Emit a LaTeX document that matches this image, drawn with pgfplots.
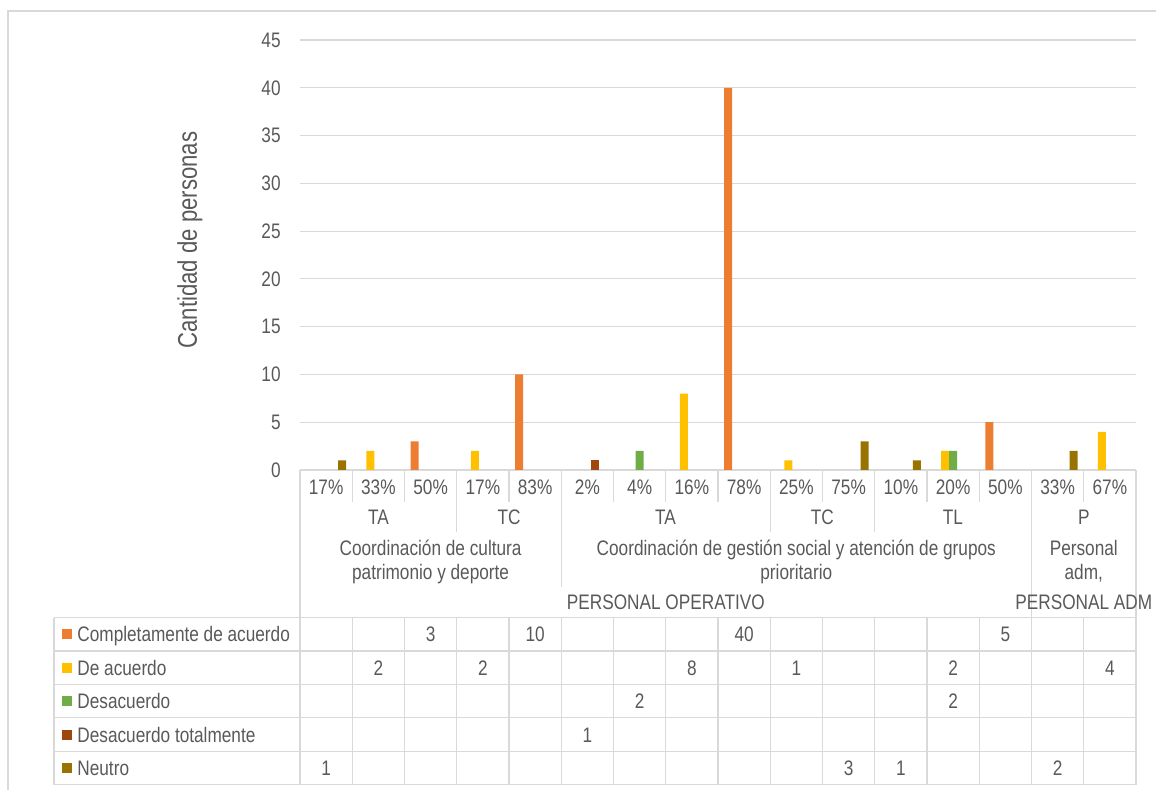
\documentclass[border=0pt]{standalone}
\usepackage{pgfplots}
\pgfplotsset{compat=1.18}
\usepackage{fontspec}
\setmainfont{Liberation Sans}[FakeStretch=0.82]
\definecolor{txt}{HTML}{595959}
\definecolor{gridc}{HTML}{D9D9D9}
\definecolor{cOr}{HTML}{ED7D31}
\definecolor{cYe}{HTML}{FFC000}
\definecolor{cGr}{HTML}{70AD47}
\definecolor{cDr}{HTML}{9E480E}
\definecolor{cOl}{HTML}{997300}
\newcommand{\fs}{\fontsize{10.5}{12.6}\selectfont}
\begin{document}
\begin{tikzpicture}
\path[use as bounding box] (0,0) rectangle (578pt,-395pt);
\begin{axis}[at={(150pt,-235pt)}, anchor=south west, scale only axis,
  width=418pt, height=215pt, xmin=-0.5, xmax=15.5, ymin=0, ymax=45,
  ytick={0,5,...,45}, xtick=\empty, ymajorgrids,
  grid style={gridc, line width=0.6pt}, axis line style={draw=none},
  major tick length=0pt,
  yticklabel style={anchor=east, inner sep=0pt, xshift=-9.5pt, font=\fs, text=txt},
  /pgf/number format/assume math mode=true, clip=false]
\addplot[ybar, bar width=0.153, bar shift=-0.306, fill=cOr, draw=none] coordinates {(2,3) (4,10) (8,40) (13,5)};
\addplot[ybar, bar width=0.153, bar shift=-0.153, fill=cYe, draw=none] coordinates {(1,2) (3,2) (7,8) (9,1) (12,2) (15,4)};
\addplot[ybar, bar width=0.153, bar shift=0, fill=cGr, draw=none] coordinates {(6,2) (12,2)};
\addplot[ybar, bar width=0.153, bar shift=0.153, fill=cDr, draw=none] coordinates {(5,1)};
\addplot[ybar, bar width=0.153, bar shift=0.306, fill=cOl, draw=none] coordinates {(0,1) (10,3) (11,1) (14,2)};
\end{axis}
\begin{scope}[x=0.5pt, y=-0.5pt]
\draw[gridc, line width=0.6pt] (8,790) -- (8,11) -- (1156,11);
% category separators
\foreach \k in {1,2,4,6,7,8,10,12,13,15} \draw[gridc, line width=0.6pt] ({300+52.25*\k},470) -- ({300+52.25*\k},502);
\foreach \k in {3,9,11} \draw[gridc, line width=0.6pt] ({300+52.25*\k},470) -- ({300+52.25*\k},532);
\foreach \k in {5} \draw[gridc, line width=0.6pt] ({300+52.25*\k},470) -- ({300+52.25*\k},587);
\foreach \k in {0,14,16} \draw[gridc, line width=0.6pt] ({300+52.25*\k},470) -- ({300+52.25*\k},617.5);
% table grid
\foreach \r in {0,...,5} \draw[gridc, line width=0.6pt] (54,{617.5+33.45*\r}) -- (1136,{617.5+33.45*\r});
\draw[gridc, line width=0.6pt] (54,617.5) -- (54,784.75);
\foreach \k in {0,...,16} \draw[gridc, line width=0.6pt] ({300+52.25*\k},617.5) -- ({300+52.25*\k},784.75);
% labels
\begin{scope}[every node/.style={text=txt, font=\fs, inner sep=0pt}]
\foreach \k/\t in {0/17,1/33,2/50,3/17,4/83,5/2,6/4,7/16,8/78,9/25,10/75,11/10,12/20,13/50,14/33,15/67}
  \node[anchor=base] at ({326.125+52.25*\k},494.5) {\t\%};
\foreach \xc/\t in {378.4/TA, 509/TC, 665.6/TA, 822.3/TC, 953/TL, 1083.8/P}
  \node[anchor=base] at (\xc,524) {\t};
\node[anchor=base] at (430.6,555.5) {Coordinación de cultura};
\node[anchor=base] at (430.6,580) {patrimonio y deporte};
\node[anchor=base] at (796.3,555.5) {Coordinación de gestión social y atención de grupos};
\node[anchor=base] at (796.3,580) {prioritario};
\node[anchor=base] at (1083.8,555.5) {Personal};
\node[anchor=base] at (1083.8,580) {adm,};
\node[anchor=base] at (665.8,610) {PERSONAL OPERATIVO};
\node[anchor=base] at (1083.8,610) {PERSONAL ADM};
% legend column
\foreach \r/\c/\n in {0/cOr/Completamente de acuerdo, 1/cYe/De acuerdo, 2/cGr/Desacuerdo, 3/cDr/Desacuerdo totalmente, 4/cOl/Neutro} {
  \fill[\c] (62,{617.5+33.45*(\r+0.5)-5}) rectangle (72,{617.5+33.45*(\r+0.5)+5});
  \node[anchor=base west] at (77,{617.5+33.45*(\r+0.5)+7.5}) {\n};
}
% table values
\foreach \k/\r/\v in {2/0/3, 4/0/10, 8/0/40, 13/0/5, 1/1/2, 3/1/2, 7/1/8, 9/1/1, 12/1/2, 15/1/4, 6/2/2, 12/2/2, 5/3/1, 0/4/1, 10/4/3, 11/4/1, 14/4/2}
  \node[anchor=base] at ({326.125+52.25*\k},{617.5+33.45*(\r+0.5)+7.5}) {\v};
\node[rotate=90, font=\fontsize{13.5}{16}\selectfont] at (190,240) {Cantidad de personas};
\end{scope}
\end{scope}
\end{tikzpicture}
\end{document}
